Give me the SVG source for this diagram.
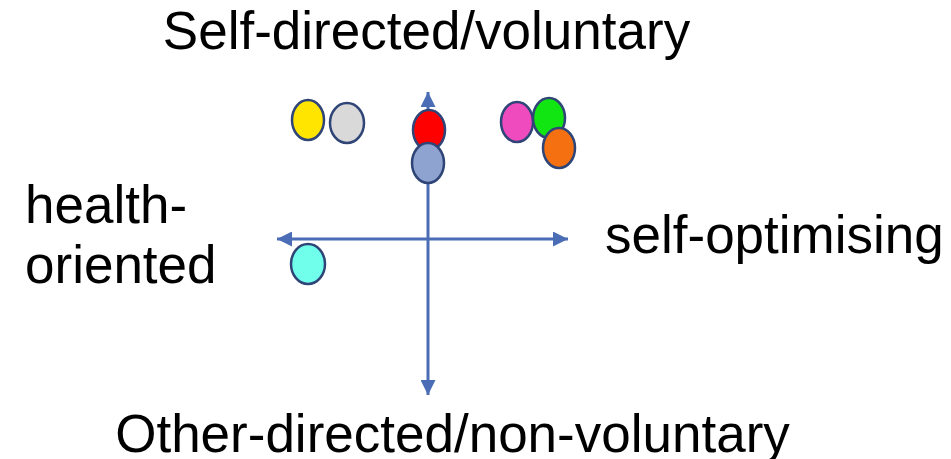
<svg xmlns="http://www.w3.org/2000/svg" width="951" height="459" viewBox="0 0 951 459">
<style>
.t{font-family:"Liberation Sans",Arial,sans-serif;font-size:53px;fill:#000}
.ax{stroke:#4A6DB5;stroke-width:3;fill:none}
.e{stroke:#2F4577;stroke-width:2.5}
</style>
<defs>
<marker id="ah" viewBox="0 0 10 10" refX="10" refY="5" markerWidth="5" markerHeight="5" orient="auto" markerUnits="strokeWidth">
<path d="M0,0 L10,5 L0,10 z" fill="#4A6DB5"/>
</marker>
</defs>
<rect width="951" height="459" fill="#fff"/>
<g id="connectors">
<line class="ax" x1="428" y1="239" x2="428" y2="92" marker-end="url(#ah)"/>
<line class="ax" x1="428" y1="239" x2="428" y2="395" marker-end="url(#ah)"/>
<line class="ax" x1="428" y1="239" x2="277" y2="239" marker-end="url(#ah)"/>
<line class="ax" x1="428" y1="239" x2="568" y2="239" marker-end="url(#ah)"/>
</g>
<g id="labels">
<text class="t" x="426.5" y="49" text-anchor="middle">Self-directed/voluntary</text>
<text class="t" x="452.5" y="452" text-anchor="middle">Other-directed/non-voluntary</text>
<text class="t" x="605" y="253">self-optimising</text>
<text class="t" x="25" y="223">health-</text>
<text class="t" x="25" y="283">oriented</text>
</g>
<g id="yellow"><ellipse class="e" cx="308" cy="120" rx="16" ry="20" fill="#FFE500"/></g>
<g id="gray"><ellipse class="e" cx="347" cy="123" rx="17" ry="20" fill="#D9D9D9"/></g>
<g id="red"><ellipse class="e" cx="429" cy="130" rx="16" ry="20" fill="#FF0000"/></g>
<g id="bluegray"><ellipse class="e" cx="428" cy="163" rx="16" ry="20" fill="#8EA3CF"/></g>
<g id="pink"><ellipse class="e" cx="517" cy="122" rx="16" ry="20" fill="#F04BBE"/></g>
<g id="green"><ellipse class="e" cx="549" cy="118" rx="16" ry="20" fill="#12E612"/></g>
<g id="orange"><ellipse class="e" cx="559" cy="148" rx="16" ry="20" fill="#F57010"/></g>
<g id="cyan"><ellipse class="e" cx="308" cy="264" rx="17" ry="20" fill="#70FFEA"/></g>
</svg>
